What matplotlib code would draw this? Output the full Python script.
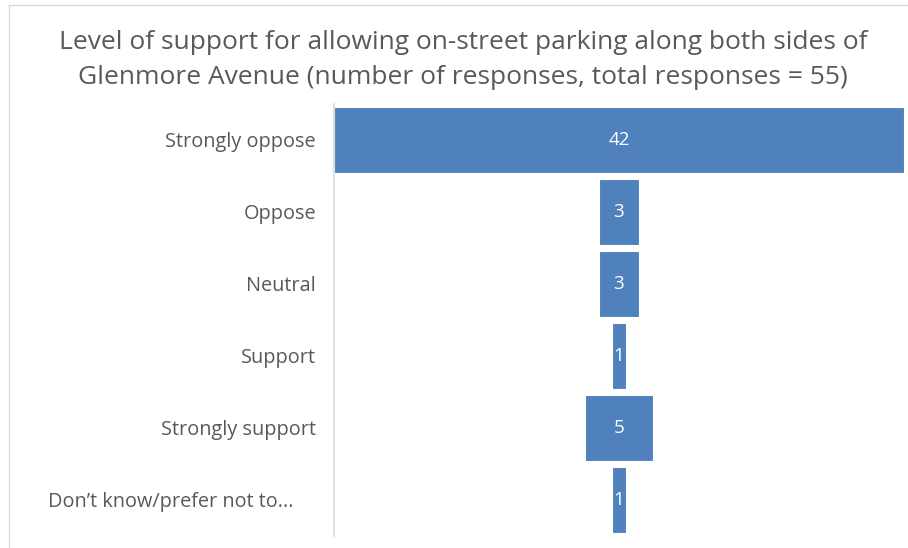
import matplotlib.pyplot as plt
import matplotlib.transforms as mtransforms

categories = ["Strongly oppose", "Oppose", "Neutral", "Support",
              "Strongly support", "Don\u2019t know/prefer not to..."]
responses = [42, 3, 3, 1, 5, 1]

plt.rcParams['font.family'] = ['Open Sans', 'DejaVu Sans']

W, H = 908, 548
fig = plt.figure(figsize=(W / 100, H / 100), dpi=100)

# faint chart border
fig.add_artist(plt.Line2D([9 / W, 9 / W], [0, 1 - 5 / H], color='#d9d9d9', lw=1))
fig.add_artist(plt.Line2D([9 / W, 1], [1 - 5 / H, 1 - 5 / H], color='#d9d9d9', lw=1))

left, right, top, bottom = 334, 904, 104, 536
ax = fig.add_axes([left / W, 1 - bottom / H, (right - left) / W, (bottom - top) / H])

ypos = list(range(len(categories)))
half = max(responses) / 2
ax.barh(ypos, responses, left=[-v / 2 for v in responses], height=0.92,
        color='#4f81bd', edgecolor='white', linewidth=0.8)
for y, v in zip(ypos, responses):
    ax.text(0, y, str(v), ha='center', va='center', color='white', fontsize=13.5)

# category labels (last one is truncated and sits a bit further left)
trans = mtransforms.blended_transform_factory(ax.transAxes, ax.transData)
for y, cat in zip(ypos, categories):
    shift = 22 if cat.endswith('...') else 0
    off = mtransforms.ScaledTranslation(-(18 + shift) / 100, -2 / 100, fig.dpi_scale_trans)
    ax.text(0, y, cat, ha='right', va='center', fontsize=14.3, color='#595959',
            transform=trans + off)

ax.set_xlim(-half, half)
ax.set_ylim(len(categories) - 0.5, -0.5)
ax.set_yticks([])
ax.set_xticks([])
for s in ['top', 'right', 'bottom']:
    ax.spines[s].set_visible(False)
ax.spines['left'].set_color('#d9d9d9')
ax.spines['left'].set_linewidth(1.2)

fig.text(463 / W, 1 - 60 / H,
         "Level of support for allowing on-street parking along both sides of\n"
         "Glenmore Avenue (number of responses, total responses = 55)",
         ha='center', va='center', fontsize=19, color='#595959', linespacing=1.55)

fig.savefig('out.png', dpi=100)
